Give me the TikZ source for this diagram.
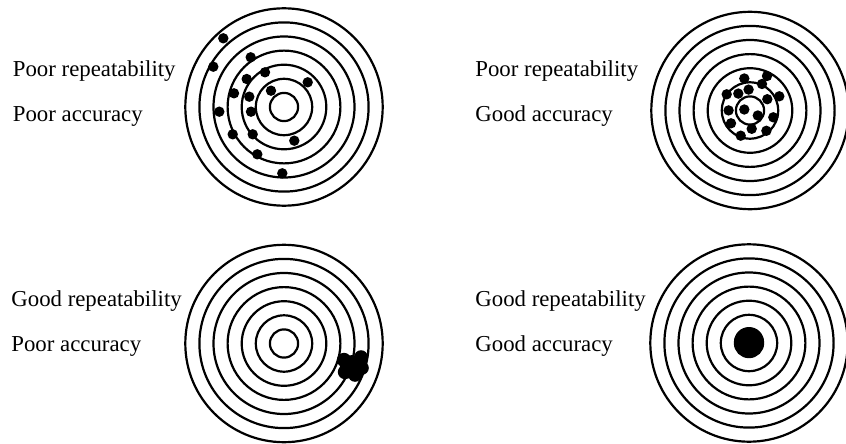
\documentclass[tikz,border=0pt]{standalone}
\usepackage{fontspec}
\setmainfont{Liberation Serif}
\usetikzlibrary{positioning}

\begin{document}
\begin{tikzpicture}[
        x=0.5pt, y=-0.5pt,
        ring/.style={draw=black, line width=1.1pt},
        shot/.style={fill=black},
        caption/.style={anchor=base west, inner sep=0pt, font=\fontsize{11.4}{13}\selectfont}
    ]
        \useasboundingbox (0,0) rectangle (846,444);

        % Target centres
        \coordinate (tl) at (284,107);
        \coordinate (tr) at (750,110.5);
        \coordinate (bl) at (284,343.5);
        \coordinate (br) at (749,343);

        % Rings
        \foreach \c in {tl,tr,bl,br}
            \foreach \k in {1,...,7}
                \draw[ring] (\c) circle[radius={\k*7.05pt}];

        % Labels
        \node[caption] (tlrep) at (12.5,76.5) {Poor repeatability};
        \node[caption] (tlacc) at (12.5,122) {Poor accuracy};
        \node[caption] (trrep) at (475,76.5) {Poor repeatability};
        \node[caption] (tracc) at (475,121.5) {Good accuracy};
        \node[caption] (blrep) at (11,306.5) {Good repeatability};
        \node[caption] (blacc) at (11,351.5) {Poor accuracy};
        \node[caption] (brrep) at (475,306.5) {Good repeatability};
        \node[caption] (bracc) at (475,351.5) {Good accuracy};

        % Shots - poor repeatability, poor accuracy
        \foreach \p in {(223.3,38.3), (213.3,66.7), (250.7,57.3), (265,72.3), (246.7,79), (307.7,82.3),
                        (234,93.3), (249.3,96.7), (271,90.7), (219.3,111.7), (251,111.7), (232.7,134.3),
                        (252.7,134.3), (294.3,140.7), (257.3,154.3), (282.3,173.3)}
            \fill[shot] \p circle[radius=2.6pt];

        % Shots - poor repeatability, good accuracy
        \foreach \p in {(744.3,78.5), (767,76), (762,84), (726.7,94.3), (738.3,93.6), (748.6,89.6),
                        (779.3,96.3), (767.3,99.2), (728.6,110.4), (744.3,109.5), (757.8,115.5), (773.3,117.3),
                        (731,123.3), (751.7,128.8), (766.4,130.8), (740.7,135.7)}
            \fill[shot] \p circle[radius=2.6pt];

        % Shots - good repeatability, poor accuracy
        \fill[shot] (344,360) circle[radius=3.6pt] (361,357) circle[radius=3.4pt]
            (352,367) circle[radius=6pt] (345,372) circle[radius=3.6pt]
            (355,375) circle[radius=3.4pt] (362,368) circle[radius=3.4pt];

        % Shots - good repeatability, good accuracy
        \fill[shot] (749,342) circle[radius=7.5pt];
    \end{tikzpicture}
\end{document}
